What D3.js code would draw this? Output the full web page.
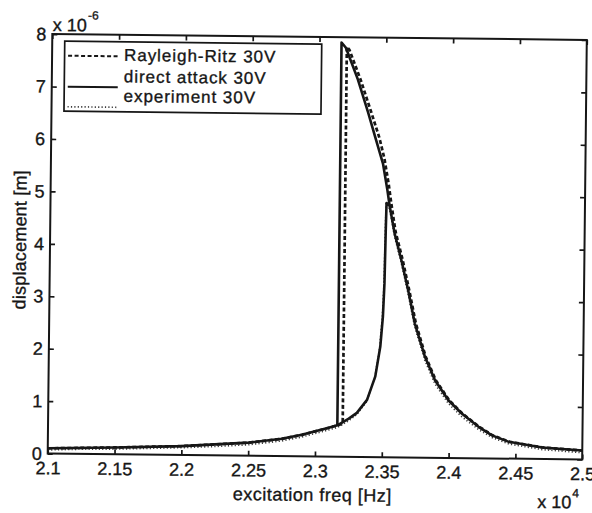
<!DOCTYPE html>
<html>
<head>
<meta charset="utf-8">
<script src="https://cdn.jsdelivr.net/npm/d3@7"></script>
<style>
  html, body { margin: 0; padding: 0; background: #fff; }
  svg { display: block; }
  text { font-family: "Liberation Sans", Arial, Helvetica, sans-serif; fill: #161616; }
</style>
</head>
<body>
<script>
// Frequency axis in units of 10^4 Hz, displacement in units of 10^-6 m
const xTickValues = [2.1, 2.15, 2.2, 2.25, 2.3, 2.35, 2.4, 2.45, 2.5];
const xTickLabels = ["2.1", "2.15", "2.2", "2.25", "2.3", "2.35", "2.4", "2.45", "2.5"];
const yTickValues = [0, 1, 2, 3, 4, 5, 6, 7, 8];
const legendLabels = ["Rayleigh-Ritz 30V", "direct attack 30V", "experiment 30V"];

// Direct attack, downward sweep: lower tail, jump at 2.3165, upper branch to 2.5
const daDownFreq = [2.10, 2.15, 2.20, 2.25, 2.275, 2.29, 2.30, 2.31, 2.3165,
  2.3165, 2.3198, 2.329, 2.337, 2.343, 2.3485, 2.352, 2.3538, 2.3578, 2.363, 2.3684,
  2.3736, 2.3814, 2.3892, 2.3994, 2.4095, 2.4222, 2.4323, 2.445, 2.47, 2.50];
const daDownDisp = [0.10, 0.13, 0.17, 0.25, 0.33, 0.41, 0.48, 0.55, 0.60,
  7.90, 7.80, 7.20, 6.57, 6.06, 5.60, 5.10, 4.80, 4.27, 3.77, 3.19,
  2.56, 1.93, 1.48, 1.10, 0.85, 0.60, 0.44, 0.32, 0.22, 0.17];

// Direct attack, upward sweep: lower branch between the two jump frequencies
const daUpFreq = [2.3165, 2.325, 2.331, 2.3385, 2.3445, 2.348, 2.3497, 2.3506, 2.3511, 2.3515, 2.3538];
const daUpDisp = [0.60, 0.73, 0.84, 1.09, 1.54, 2.11, 2.68, 3.32, 4.28, 4.85, 4.80];

// Rayleigh-Ritz, downward sweep (jump at 2.3205)
const rrFreq = [2.10, 2.15, 2.20, 2.25, 2.275, 2.29, 2.30, 2.31, 2.3205,
  2.3205, 2.3225, 2.331, 2.339, 2.3455, 2.3495, 2.353, 2.355, 2.3585, 2.364, 2.3692,
  2.3744, 2.382, 2.3898, 2.4, 2.41, 2.4227, 2.4328, 2.4455, 2.4705, 2.50];
const rrDisp = [0.10, 0.13, 0.17, 0.25, 0.33, 0.41, 0.48, 0.55, 0.63,
  7.82, 7.76, 7.20, 6.60, 6.10, 5.70, 5.20, 4.85, 4.30, 3.77, 3.19,
  2.56, 1.93, 1.48, 1.10, 0.85, 0.60, 0.44, 0.32, 0.22, 0.17];

// Measured response, upward sweep (jump up near 2.351)
const expFreq = [2.10, 2.125, 2.15, 2.175, 2.20, 2.225, 2.25, 2.275, 2.29, 2.30, 2.31, 2.3165,
  2.325, 2.331, 2.338, 2.344, 2.3475, 2.3493, 2.3503, 2.3508, 2.3512,
  2.3538, 2.3578, 2.363, 2.3684, 2.3736, 2.3814, 2.3892, 2.3994, 2.4095, 2.4222,
  2.4323, 2.445, 2.47, 2.50];
const expDisp = [0.07, 0.09, 0.10, 0.12, 0.14, 0.17, 0.21, 0.29, 0.37, 0.44, 0.51, 0.56,
  0.69, 0.81, 1.05, 1.49, 2.07, 2.68, 3.32, 4.28, 4.85,
  4.74, 4.21, 3.71, 3.12, 2.49, 1.86, 1.41, 1.04, 0.79, 0.55,
  0.40, 0.28, 0.18, 0.13];

const W = 592, H = 513;
const plot = { left: 50, right: 584.5, top: 37, bottom: 456.5 };
const ink = "#161616";
const textHalo = 0.35;   // slight stroke so the lettering reads as heavy as the lines

const svg = d3.select("body").append("svg")
  .attr("width", W).attr("height", H);

// the whole figure sits a little askew on the page
const fig = svg.append("g").attr("transform", "rotate(0.63, 317, 247)");

const x = d3.scaleLinear().domain([2.1, 2.5]).range([plot.left, plot.right]);
const y = d3.scaleLinear().domain([0, 8]).range([plot.bottom, plot.top]);

// axes with inward ticks on all four sides
const tickLen = 5;
const bottomAxis = d3.axisBottom(x).tickValues(xTickValues)
  .tickFormat((d, i) => xTickLabels[i]).tickSizeInner(-tickLen).tickSizeOuter(0).tickPadding(8);
const topAxis = d3.axisTop(x).tickValues(xTickValues).tickFormat("")
  .tickSizeInner(-tickLen).tickSizeOuter(0);
const leftAxis = d3.axisLeft(y).tickValues(yTickValues).tickFormat(d3.format("d"))
  .tickSizeInner(-tickLen).tickSizeOuter(0).tickPadding(6);
const rightAxis = d3.axisRight(y).tickValues(yTickValues).tickFormat("")
  .tickSizeInner(-tickLen).tickSizeOuter(0);

function styleAxis(g) {
  g.select(".domain").remove();
  g.selectAll(".tick line").attr("stroke", ink).attr("stroke-width", 1.7);
  g.selectAll(".tick text").attr("font-size", 18).attr("fill", ink)
    .attr("stroke", ink).attr("stroke-width", textHalo)
    .style("font-family", "'Liberation Sans', Arial, Helvetica, sans-serif");
}

fig.append("g").attr("transform", `translate(0,${plot.bottom})`).call(bottomAxis).call(styleAxis);
fig.append("g").attr("transform", `translate(0,${plot.top})`).call(topAxis).call(styleAxis);
fig.append("g").attr("transform", `translate(${plot.left},0)`).call(leftAxis).call(styleAxis);
fig.append("g").attr("transform", `translate(${plot.right},0)`).call(rightAxis).call(styleAxis);

// curves
const line = d3.line().x(d => x(d[0])).y(d => y(d[1]));
const zip = (a, b) => a.map((v, i) => [v, b[i]]);

const curves = fig.append("g").attr("fill", "none").attr("stroke-linejoin", "round");

curves.append("path").datum(zip(rrFreq, rrDisp))
  .attr("d", line).attr("stroke", ink).attr("stroke-width", 2.7)
  .attr("stroke-dasharray", "4,2.5");

curves.append("path").datum(zip(expFreq, expDisp))
  .attr("d", line).attr("stroke", "#3a3a3a").attr("stroke-width", 1.7)
  .attr("stroke-dasharray", "1.2,2.2");

curves.append("path").datum(zip(daDownFreq, daDownDisp))
  .attr("d", line).attr("stroke", ink).attr("stroke-width", 2.6);

curves.append("path").datum(zip(daUpFreq, daUpDisp))
  .attr("d", line).attr("stroke", ink).attr("stroke-width", 2.6);

// frame
fig.append("rect")
  .attr("x", plot.left).attr("y", plot.top)
  .attr("width", plot.right - plot.left).attr("height", plot.bottom - plot.top)
  .attr("fill", "none").attr("stroke", ink).attr("stroke-width", 2);

// legend
const legend = fig.append("g");
legend.append("rect")
  .attr("x", 62.5).attr("y", 44).attr("width", 257).attr("height", 70)
  .attr("fill", "#fff").attr("stroke", ink).attr("stroke-width", 1.7);

const legendStyles = [
  { dash: "4,2.5", width: 2, lineY: 58.5, textY: 63, color: ink },
  { dash: null, width: 2, lineY: 89.5, textY: 84.5, color: ink },
  { dash: "1.2,2.2", width: 1.7, lineY: 109.5, textY: 104, color: "#3a3a3a" }
];
legendLabels.forEach((label, i) => {
  const s = legendStyles[i];
  legend.append("line")
    .attr("x1", 66).attr("x2", 116).attr("y1", s.lineY).attr("y2", s.lineY)
    .attr("stroke", s.color).attr("stroke-width", s.width)
    .attr("stroke-dasharray", s.dash);
  legend.append("text")
    .attr("x", 122).attr("y", s.textY)
    .attr("font-size", 17).attr("letter-spacing", 0.95)
    .attr("stroke", ink).attr("stroke-width", textHalo)
    .text(label);
});

// axis titles
fig.append("text")
  .attr("x", 315).attr("y", 501)
  .attr("text-anchor", "middle").attr("font-size", 18).attr("letter-spacing", 0.5)
  .attr("stroke", ink).attr("stroke-width", textHalo)
  .text("excitation freq [Hz]");

fig.append("text")
  .attr("transform", "translate(26,243) rotate(-90)")
  .attr("text-anchor", "middle").attr("font-size", 18).attr("letter-spacing", 0.2)
  .attr("stroke", ink).attr("stroke-width", textHalo)
  .text("displacement [m]");

// exponent multipliers
const yMult = fig.append("text").attr("x", 50.5).attr("y", 34).attr("font-size", 18)
  .attr("stroke", ink).attr("stroke-width", textHalo);
yMult.append("tspan").text("x 10");
yMult.append("tspan").attr("dx", 1).attr("dy", -12).attr("font-size", 12).text("-6");

const xMult = fig.append("text").attr("x", 540).attr("y", 505.5).attr("font-size", 18)
  .attr("stroke", ink).attr("stroke-width", textHalo);
xMult.append("tspan").text("x 10");
xMult.append("tspan").attr("dx", 1).attr("dy", -11).attr("font-size", 12).text("4");
</script>
</body>
</html>
